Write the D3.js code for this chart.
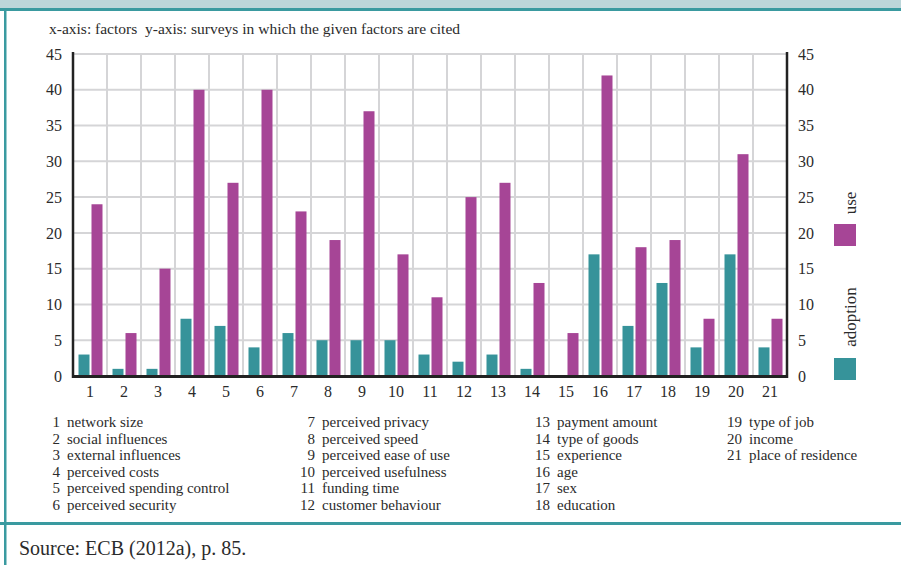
<!DOCTYPE html>
<html lang="en">
<head>
	<meta charset="UTF-8">
	<title>Factors cited in surveys</title>
	<script src="https://d3js.org/d3.v7.min.js"></script>
	<style>
		body { margin: 0; background: #fff; }
		text { font-family: "Liberation Serif", "DejaVu Serif", serif; fill: #2b2b2b; }
	</style>
</head>
<body>
	<script type="text/javascript">
		const factors = d3.range(1, 22).map(String);
		const adoption = [3, 1, 1, 8, 7, 4, 6, 5, 5, 5, 3, 2, 3, 1, 0, 17, 7, 13, 4, 17, 4];
		const use = [24, 6, 15, 40, 27, 40, 23, 19, 37, 17, 11, 25, 27, 13, 6, 42, 18, 19, 8, 31, 8];
		const yTicks = [0, 5, 10, 15, 20, 25, 30, 35, 40, 45];
		const factorNames = [
			"network size", "social influences", "external influences", "perceived costs",
			"perceived spending control", "perceived security", "perceived privacy", "perceived speed",
			"perceived ease of use", "perceived usefulness", "funding time", "customer behaviour",
			"payment amount", "type of goods", "experience", "age", "sex", "education",
			"type of job", "income", "place of residence"
		];

		const width = 901;
		const height = 565;
		const teal = "#36939a";
		const magenta = "#a64596";
		const border = "#3a9aa0";

		const svg = d3.select("body")
			.append("svg")
			.attr("width", width)
			.attr("height", height);

		// frame
		svg.append("rect").attr("x", 0).attr("y", 0).attr("width", width).attr("height", 9).attr("fill", "#bcd6da");
		svg.append("rect").attr("x", 0).attr("y", 8).attr("width", width).attr("height", 3).attr("fill", border);
		svg.append("rect").attr("x", 4).attr("y", 8).attr("width", 2.5).attr("height", height).attr("fill", border);
		svg.append("rect").attr("x", 0).attr("y", 522).attr("width", width).attr("height", 3).attr("fill", border);

		svg.append("text")
			.attr("x", 49)
			.attr("y", 34)
			.attr("font-size", "15.5px")
			.text("x-axis: factors\u00a0 y-axis: surveys in which the given factors are cited");

		const plotLeft = 73, plotRight = 787, plotTop = 54, plotBottom = 376;

		const xScale = d3.scaleBand()
			.domain(factors)
			.range([plotLeft, plotRight]);

		const yScale = d3.scaleLinear()
			.domain([0, 45])
			.range([plotBottom, plotTop]);

		// grid
		svg.append("g").selectAll("line")
			.data(yTicks)
			.enter()
			.append("line")
			.attr("x1", plotLeft).attr("x2", plotRight)
			.attr("y1", (d) => yScale(d)).attr("y2", (d) => yScale(d))
			.attr("stroke", "#d5d5d7").attr("stroke-width", 2);

		svg.append("g").selectAll("line")
			.data(factors.slice(1))
			.enter()
			.append("line")
			.attr("x1", (d) => xScale(d)).attr("x2", (d) => xScale(d))
			.attr("y1", plotTop).attr("y2", plotBottom)
			.attr("stroke", "#d5d5d7").attr("stroke-width", 2);

		const barW = 11;
		const gap = 2;
		const offset = (xScale.bandwidth() - (barW * 2 + gap)) / 2 + 0.5;

		svg.append("g").selectAll("rect")
			.data(adoption)
			.enter()
			.append("rect")
			.attr("x", (d, i) => xScale(factors[i]) + offset)
			.attr("y", (d) => yScale(d))
			.attr("width", barW)
			.attr("height", (d) => yScale(0) - yScale(d))
			.attr("fill", teal);

		svg.append("g").selectAll("rect")
			.data(use)
			.enter()
			.append("rect")
			.attr("x", (d, i) => xScale(factors[i]) + offset + barW + gap)
			.attr("y", (d) => yScale(d))
			.attr("width", barW)
			.attr("height", (d) => yScale(0) - yScale(d))
			.attr("fill", magenta);

		// axes
		const yLeft = svg.append("g")
			.attr("transform", `translate(${plotLeft},0)`)
			.call(d3.axisLeft(yScale).tickValues(yTicks).tickSize(0).tickPadding(11));
		const yRight = svg.append("g")
			.attr("transform", `translate(${plotRight},0)`)
			.call(d3.axisRight(yScale).tickValues(yTicks).tickSize(0).tickPadding(11));
		const xAxis = svg.append("g")
			.attr("transform", `translate(0,${plotBottom})`)
			.call(d3.axisBottom(xScale).tickSize(0).tickPadding(10));

		[yLeft, yRight, xAxis].forEach((g) => {
			g.select(".domain").remove();
			g.selectAll("text")
				.attr("font-size", "16px")
				.attr("font-family", "Liberation Serif, serif")
				.attr("fill", "#2b2b2b");
		});

		svg.append("line").attr("x1", plotLeft).attr("x2", plotLeft).attr("y1", plotTop - 2).attr("y2", plotBottom + 2)
			.attr("stroke", "#222").attr("stroke-width", 2.5);
		svg.append("line").attr("x1", plotRight).attr("x2", plotRight).attr("y1", plotTop - 2).attr("y2", plotBottom + 2)
			.attr("stroke", "#222").attr("stroke-width", 2.5);
		svg.append("line").attr("x1", plotLeft - 1).attr("x2", plotRight + 1).attr("y1", plotBottom + 0.5).attr("y2", plotBottom + 0.5)
			.attr("stroke", "#222").attr("stroke-width", 3);

		// legend
		const legend = [
			{ name: "use", color: magenta, y: 224, ty: 203 },
			{ name: "adoption", color: teal, y: 358, ty: 317 }
		];
		svg.append("g").selectAll("rect")
			.data(legend)
			.enter()
			.append("rect")
			.attr("x", 834)
			.attr("y", (d) => d.y)
			.attr("width", 22)
			.attr("height", 22)
			.attr("fill", (d) => d.color);
		svg.append("g").selectAll("text")
			.data(legend)
			.enter()
			.append("text")
			.attr("transform", (d) => `translate(856,${d.ty}) rotate(-90)`)
			.attr("text-anchor", "middle")
			.attr("font-size", "17px")
			.text((d) => d.name);

		// factor key
		const colNum = [60, 315, 550, 742];
		const list = svg.append("g");
		factorNames.forEach((name, i) => {
			const col = Math.floor(i / 6);
			const row = i % 6;
			const y = 427 + row * 16.6;
			list.append("text")
				.attr("x", colNum[col])
				.attr("y", y)
				.attr("text-anchor", "end")
				.attr("font-size", "15px")
				.text(factors[i]);
			list.append("text")
				.attr("x", colNum[col] + 7)
				.attr("y", y)
				.attr("font-size", "15px")
				.text(name);
		});

		svg.append("text")
			.attr("x", 19)
			.attr("y", 555)
			.attr("font-size", "20px")
			.text("Source: ECB (2012a), p. 85.");
	</script>
</body>
</html>
